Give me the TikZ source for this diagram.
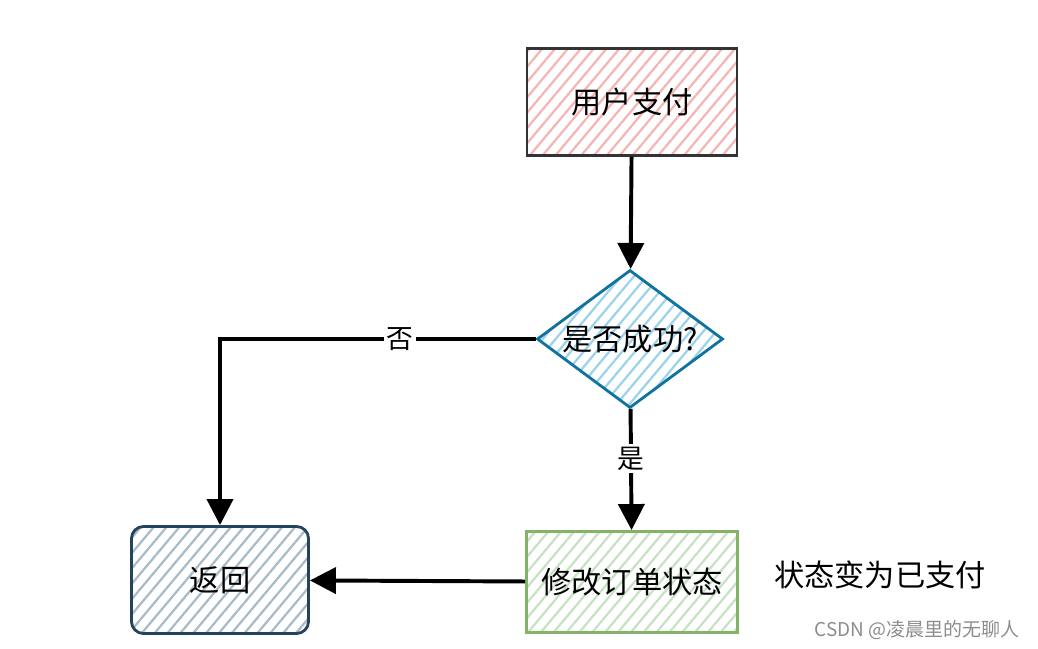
\documentclass[tikz,border=0pt]{standalone}
\usepackage{fontspec}
\setmainfont{Noto Sans CJK SC}
\usepackage{xcolor}
\usetikzlibrary{shapes.geometric,arrows.meta,positioning,patterns.meta}

\definecolor{payline}{HTML}{333333}
\definecolor{payfill}{HTML}{F5B5B3}
\definecolor{checkline}{HTML}{10739E}
\definecolor{checkfill}{HTML}{9CD2EC}
\definecolor{doneline}{HTML}{82B366}
\definecolor{donefill}{HTML}{C6E2C3}
\definecolor{backline}{HTML}{23445D}
\definecolor{backfill}{HTML}{AABBC8}

\begin{document}
\begin{tikzpicture}[
				x=0.025cm, y=-0.025cm,
				hatch/.style={pattern={Lines[angle=50,distance=7pt,line width=1.6pt]}},
				stepbox/.style={draw, line width=2pt, hatch, inner sep=0pt,
					font=\fontsize{21.5}{26}\selectfont},
				decision/.style={diamond, stepbox, aspect=1.35},
				link/.style={line width=2.8pt, -{Triangle[length=0.65cm,width=0.65cm]}},
				tag/.style={fill=white, inner sep=2pt, font=\fontsize{19}{22}\selectfont},
			]
			\useasboundingbox (0,0) rectangle (1038,649);

			\node[stepbox, draw=payline, pattern color=payfill,
				minimum width=5.25cm, minimum height=2.675cm] (pay) at (632,102) {用户支付};
			\node[decision, draw=checkline, pattern color=checkfill,
				minimum width=4.65cm, minimum height=3.45cm] (check) at (630,339) {是否成功?};
			\node[stepbox, draw=doneline, pattern color=donefill,
				minimum width=5.275cm, minimum height=2.525cm] (done) at (632,582) {修改订单状态};
			\node[stepbox, draw=backline, pattern color=backfill, rounded corners=0.3cm,
				minimum width=4.425cm, minimum height=2.675cm] (back) at (220,580) {返回};

			\node[font=\fontsize{21.5}{26}\selectfont] (note) at (880,575) {状态变为已支付};
			\node[font=\fontsize{13.5}{16}\selectfont, text=black!45] (mark) at (917,630) {CSDN @凌晨里的无聊人};

			\draw[link] (pay) -- (check);
			\draw[link] (check.west) -| node[tag, pos=0.215] {否} (back.north);
			\draw[link] (check) -- node[tag, pos=0.41] {是} (done);
			\draw[link] (done) -- (back);

		\end{tikzpicture}
\end{document}
